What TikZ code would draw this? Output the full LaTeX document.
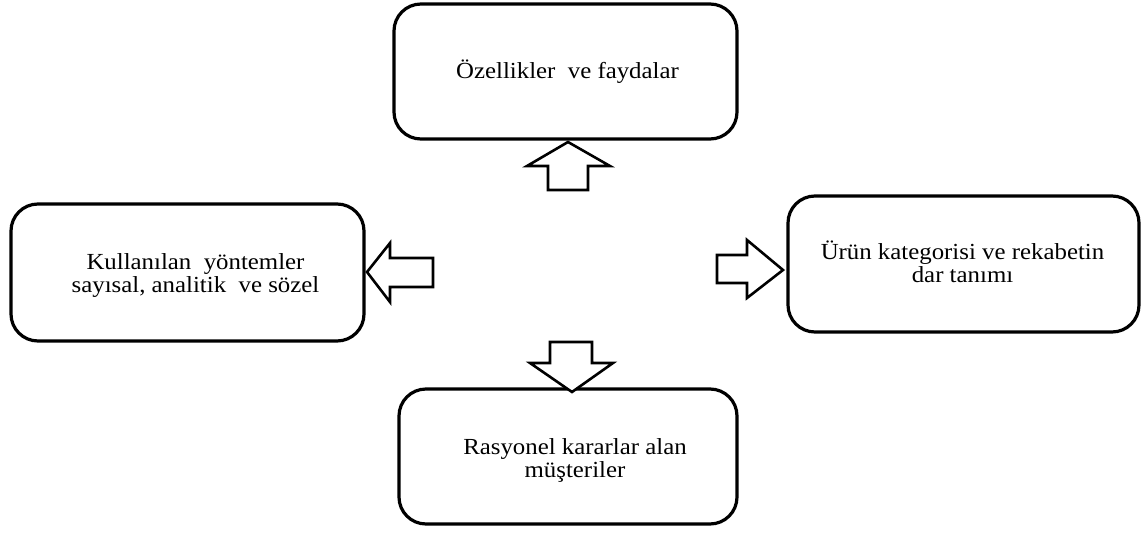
\documentclass[tikz,border=0pt]{standalone}
\usepackage{fontspec}
\setmainfont[FakeStretch=1.08]{Liberation Serif}
\begin{document}
\begin{tikzpicture}[x=1pt,y=-1pt,
  box/.style={draw=black,line width=3.2pt,rounded corners=27pt,fill=white,inner sep=0pt},
  lbl/.style={align=center,font=\fontsize{23}{22.5}\selectfont,inner sep=0pt},
  blockarrow/.style={draw=black,line width=2.6pt,fill=white,line join=miter}]
\useasboundingbox (0,0) rectangle (1143,533);

% four rounded boxes
\node[box,minimum width=343pt,minimum height=135pt] (top) at (565.5,71.5) {};
\node[box,minimum width=353pt,minimum height=137pt] (left) at (187.5,272.5) {};
\node[box,minimum width=351pt,minimum height=136pt] (right) at (963.5,264) {};
\node[box,minimum width=338pt,minimum height=135pt] (bottom) at (568,456.5) {};

% box texts (anchor base = baseline of the last line)
\node[lbl,anchor=base] (toptext) at ([xshift=2pt,yshift=-6.5pt]top.center) {Özellikler\ \ ve faydalar};
\node[lbl,anchor=base] (lefttext) at ([xshift=8pt,yshift=-19.5pt]left.center) {Kullanılan\ \ yöntemler\\sayısal, analitik\ \ ve sözel};
\node[lbl,anchor=base] (righttext) at ([xshift=-1pt,yshift=-18pt]right.center) {Ürün kategorisi ve rekabetin\\dar tanımı};
\node[lbl,anchor=base] (bottomtext) at ([xshift=7pt,yshift=-20.5pt]bottom.center) {Rasyonel kararlar alan\\müşteriler};

% block arrows pointing outward from the centre
\draw[blockarrow] (548,190) -- (548,166) -- (527,166) -- (568,142) -- (610,166) -- (588,166) -- (588,190) -- cycle;
\draw[blockarrow] (433,258) -- (390,258) -- (390,243) -- (367,272) -- (390,302) -- (390,287) -- (433,287) -- cycle;
\draw[blockarrow] (717,255) -- (747,255) -- (747,240) -- (783,270) -- (747,298) -- (747,283) -- (717,283) -- cycle;
\draw[blockarrow] (550,342) -- (550,363) -- (530,363) -- (572,392) -- (613,363) -- (592,363) -- (592,342) -- cycle;
\end{tikzpicture}
\end{document}
